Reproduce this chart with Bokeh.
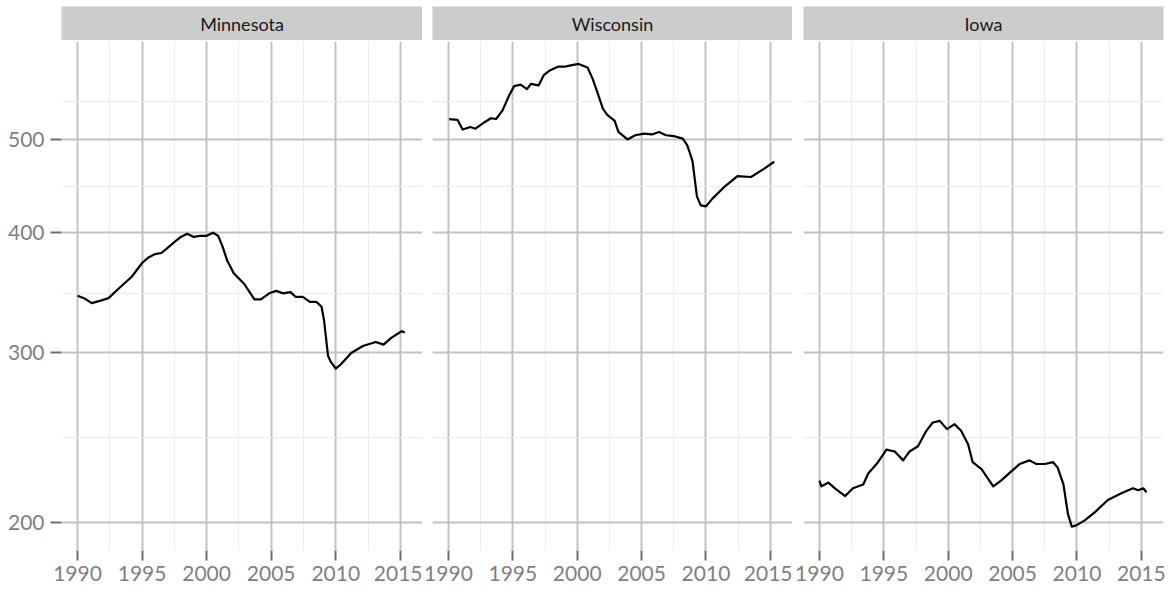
from bokeh.plotting import figure
from bokeh.layouts import row, column
from bokeh.models import FixedTicker, Range1d, PrintfTickFormatter
from bokeh.core.properties import value
from bokeh.embed import file_html
from bokeh.resources import INLINE

states = ["Minnesota", "Wisconsin", "Iowa"]
year_ticks = [1990, 1995, 2000, 2005, 2010, 2015]
year_minor = [1992.5, 1997.5, 2002.5, 2007.5, 2012.5]
emp_ticks = [200, 300, 400, 500]
emp_minor = [245, 346, 447, 548]

mn_year = [1990.0, 1990.5, 1991.1, 1991.8, 1992.4, 1993.3, 1994.2, 1995.0, 1995.5, 1996.0,
           1996.5, 1997.0, 1997.5, 1998.0, 1998.5, 1999.0, 1999.5, 2000.0, 2000.5, 2000.9,
           2001.2, 2001.6, 2002.1, 2002.9, 2003.7, 2004.2, 2004.85, 2005.4, 2005.9, 2006.5,
           2006.9, 2007.45, 2008.0, 2008.5, 2008.9, 2009.1, 2009.4, 2009.6, 2010.0, 2010.4,
           2011.2, 2012.1, 2013.1, 2013.7, 2014.3, 2015.1, 2015.35]
mn_value = [344, 342, 338, 340, 342, 351, 360, 372, 377, 380,
            381, 386, 391, 396, 399, 396, 397, 397, 400, 397,
            388, 374, 363, 354, 341, 341, 346, 348, 346, 347,
            343, 343, 339, 339, 335, 324, 298, 294, 289, 292,
            300, 305, 308, 306, 311, 316, 315]

wi_year = [1990.05, 1990.7, 1991.1, 1991.7, 1992.1, 1992.8, 1993.3, 1993.7, 1994.2, 1994.7,
           1995.1, 1995.6, 1996.1, 1996.4, 1997.0, 1997.4, 1997.9, 1998.5, 1999.0, 1999.5,
           2000.1, 2000.8, 2001.2, 2001.6, 2002.0, 2002.35, 2002.9, 2003.2, 2003.9, 2004.5,
           2005.2, 2005.8, 2006.35, 2006.9, 2007.5, 2008.2, 2008.55, 2008.95, 2009.3, 2009.6,
           2010.0, 2010.5, 2011.4, 2012.45, 2013.5, 2014.5, 2015.3]
wi_value = [525, 524, 512, 515, 513, 521, 526, 525, 536, 555,
            568, 570, 564, 571, 569, 583, 590, 595, 595, 597,
            599, 594, 578, 558, 538, 530, 523, 509, 500, 505,
            507, 506, 509, 505, 504, 501, 493, 475, 436, 427,
            426, 434, 446, 458, 457, 466, 474]

ia_year = [1990.0, 1990.15, 1990.7, 1991.2, 1992.0, 1992.6, 1993.4, 1993.8, 1994.55, 1995.2,
           1995.85, 1996.5, 1997.0, 1997.65, 1998.3, 1998.8, 1999.35, 1999.9, 2000.5, 2001.0,
           2001.55, 2001.9, 2002.6, 2003.5, 2004.1, 2004.9, 2005.55, 2006.3, 2006.85, 2007.5,
           2008.15, 2008.5, 2008.95, 2009.3, 2009.6, 2009.95, 2010.6, 2011.4, 2012.4, 2013.45,
           2014.35, 2014.75, 2015.15, 2015.4]
ia_value = [221, 218, 220, 217, 213, 217, 219, 225, 231, 238,
            237, 232, 237, 240, 249, 254, 255, 250, 253, 249,
            241, 231, 227, 218, 221, 226, 230, 232, 230, 230,
            231, 228, 219, 204, 198, 198.6, 201, 205, 211, 214.5,
            217, 216, 217, 215]

series = [(mn_year, mn_value), (wi_year, wi_value), (ia_year, ia_value)]

FONT = "Lato"
GRID = "#C2C2C2"
MINOR = "#EDEDED"
TXT = "#7F7F7F"

lefts = [61, 10, 11]
widths = [361, 360, 360]
rights = [0, 0, 10]

panels = []
for i, (name, (xs, ys)) in enumerate(zip(states, series)):
    left = lefts[i]
    # strip
    s = figure(frame_width=widths[i], frame_height=34, x_range=(0, 1), y_range=(0, 1),
               toolbar_location=None, output_backend="svg",
               min_border_left=left, min_border_right=rights[i], min_border_top=6,
               min_border_bottom=0)
    s.background_fill_color = "#CCCCCC"
    s.border_fill_color = "white"
    s.outline_line_color = None
    s.xaxis.visible = False
    s.yaxis.visible = False
    s.grid.visible = False
    s.text(x=[0.5], y=[0.5], text=[name], text_align="center", text_baseline="middle",
           text_font=value(FONT), text_font_size="18px", text_color="#1A1A1A")

    p = figure(frame_width=widths[i], frame_height=509, y_axis_type="log",
               x_range=Range1d(1988.76, 2016.72), y_range=Range1d(187, 632),
               toolbar_location=None, output_backend="svg",
               min_border_left=left, min_border_right=rights[i], min_border_top=0,
               min_border_bottom=0)
    p.outline_line_color = None
    p.background_fill_color = "white"
    p.line(xs, ys, line_color="black", line_width=2.2, line_join="round")

    xt = FixedTicker(ticks=year_ticks, minor_ticks=year_minor)
    yt = FixedTicker(ticks=emp_ticks, minor_ticks=emp_minor)
    p.xaxis.ticker = xt
    p.yaxis.ticker = yt
    p.xgrid.ticker = xt
    p.ygrid.ticker = yt
    p.yaxis.formatter = PrintfTickFormatter(format="%d")
    for g in (p.xgrid, p.ygrid):
        g.grid_line_color = GRID
        g.grid_line_width = 2
        g.minor_grid_line_color = MINOR
        g.minor_grid_line_width = 1
    for ax in (p.xaxis, p.yaxis):
        ax.axis_line_color = None
        ax.major_tick_line_color = "#6E6E6E"
        ax.major_tick_line_width = 2
        ax.major_tick_in = 0
        ax.major_tick_out = 10
        ax.minor_tick_line_color = None
        ax.major_label_text_font = FONT
        ax.major_label_text_font_size = "21px"
        ax.major_label_text_color = TXT
        ax.major_label_standoff = 5
    p.yaxis.major_tick_out = 11
    p.yaxis.major_label_standoff = 6
    if i > 0:
        p.yaxis.visible = False
    panels.append(column(s, p, spacing=1))

layout = row(*panels, spacing=0)
open("out.html", "w").write(file_html(layout, INLINE))
